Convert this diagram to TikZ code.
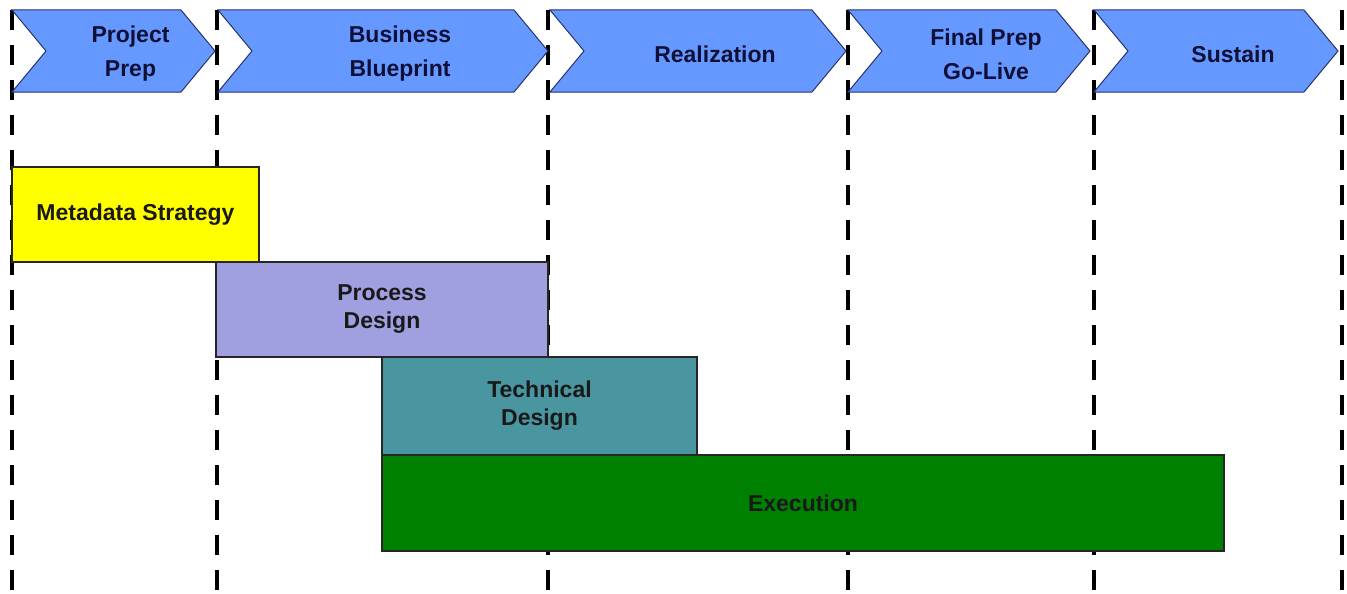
\documentclass[tikz,border=0pt]{standalone}
\usepackage{fontspec}
\setmainfont{Liberation Sans}
\usetikzlibrary{positioning}
\definecolor{phaseblue}{RGB}{102,153,255}
\definecolor{phaseline}{RGB}{40,50,110}
\definecolor{phasetext}{RGB}{15,15,55}
\definecolor{metayellow}{RGB}{255,255,0}
\definecolor{proclav}{RGB}{160,160,224}
\definecolor{techteal}{RGB}{74,150,160}
\definecolor{execgreen}{RGB}{0,128,0}

\begin{document}
\begin{tikzpicture}[x=1pt,y=-1pt,
  phase/.style={draw=phaseline,fill=phaseblue,line width=1pt},
  phaselabel/.style={text=phasetext,align=center,font=\bfseries\fontsize{23}{34}\selectfont},
  bar/.style={draw=black!85,line width=1.5pt,minimum height=95pt,align=center,inner sep=0pt,
    outer sep=0pt,anchor=north west,font=\bfseries\fontsize{23}{28}\selectfont,text=black!90},
  gate/.style={black,line width=4.5pt,dash pattern=on 20pt off 15pt,dash phase=25pt}]
\useasboundingbox (0,0) rectangle (1347,594);
% phase boundaries
\foreach \x in {12,217,548,848,1094,1342}
  \draw[gate] (\x,0) -- (\x,594);
% phases
\foreach \l/\r/\name/\txt in {12/215/prep/{Project\\Prep},218/548/blue/{Business\\Blueprint},
    550/846/real/{Realization},848/1090/final/{Final Prep\\Go-Live},1094/1338/sust/{Sustain}}{
  \draw[phase] (\l,10) -- ({\r-34},10) -- (\r,51) -- ({\r-34},92) -- (\l,92) -- ({\l+34},51) -- cycle;
  \node[phaselabel] (\name) at ({(\l+34+\r)/2},54) {\txt};
}
% work streams
\node[bar,fill=metayellow,minimum width=247pt] (meta) at (12,167) {Metadata Strategy};
\node[bar,fill=proclav,minimum width=332pt] (proc) at (216,262) {Process\\Design};
\node[bar,fill=techteal,minimum width=315pt,minimum height=98pt] (tech) at (proc.south) {Technical\\Design};
\node[bar,fill=execgreen,minimum width=842pt,minimum height=96pt] (exec) at (tech.south west) {Execution};
\end{tikzpicture}
\end{document}
